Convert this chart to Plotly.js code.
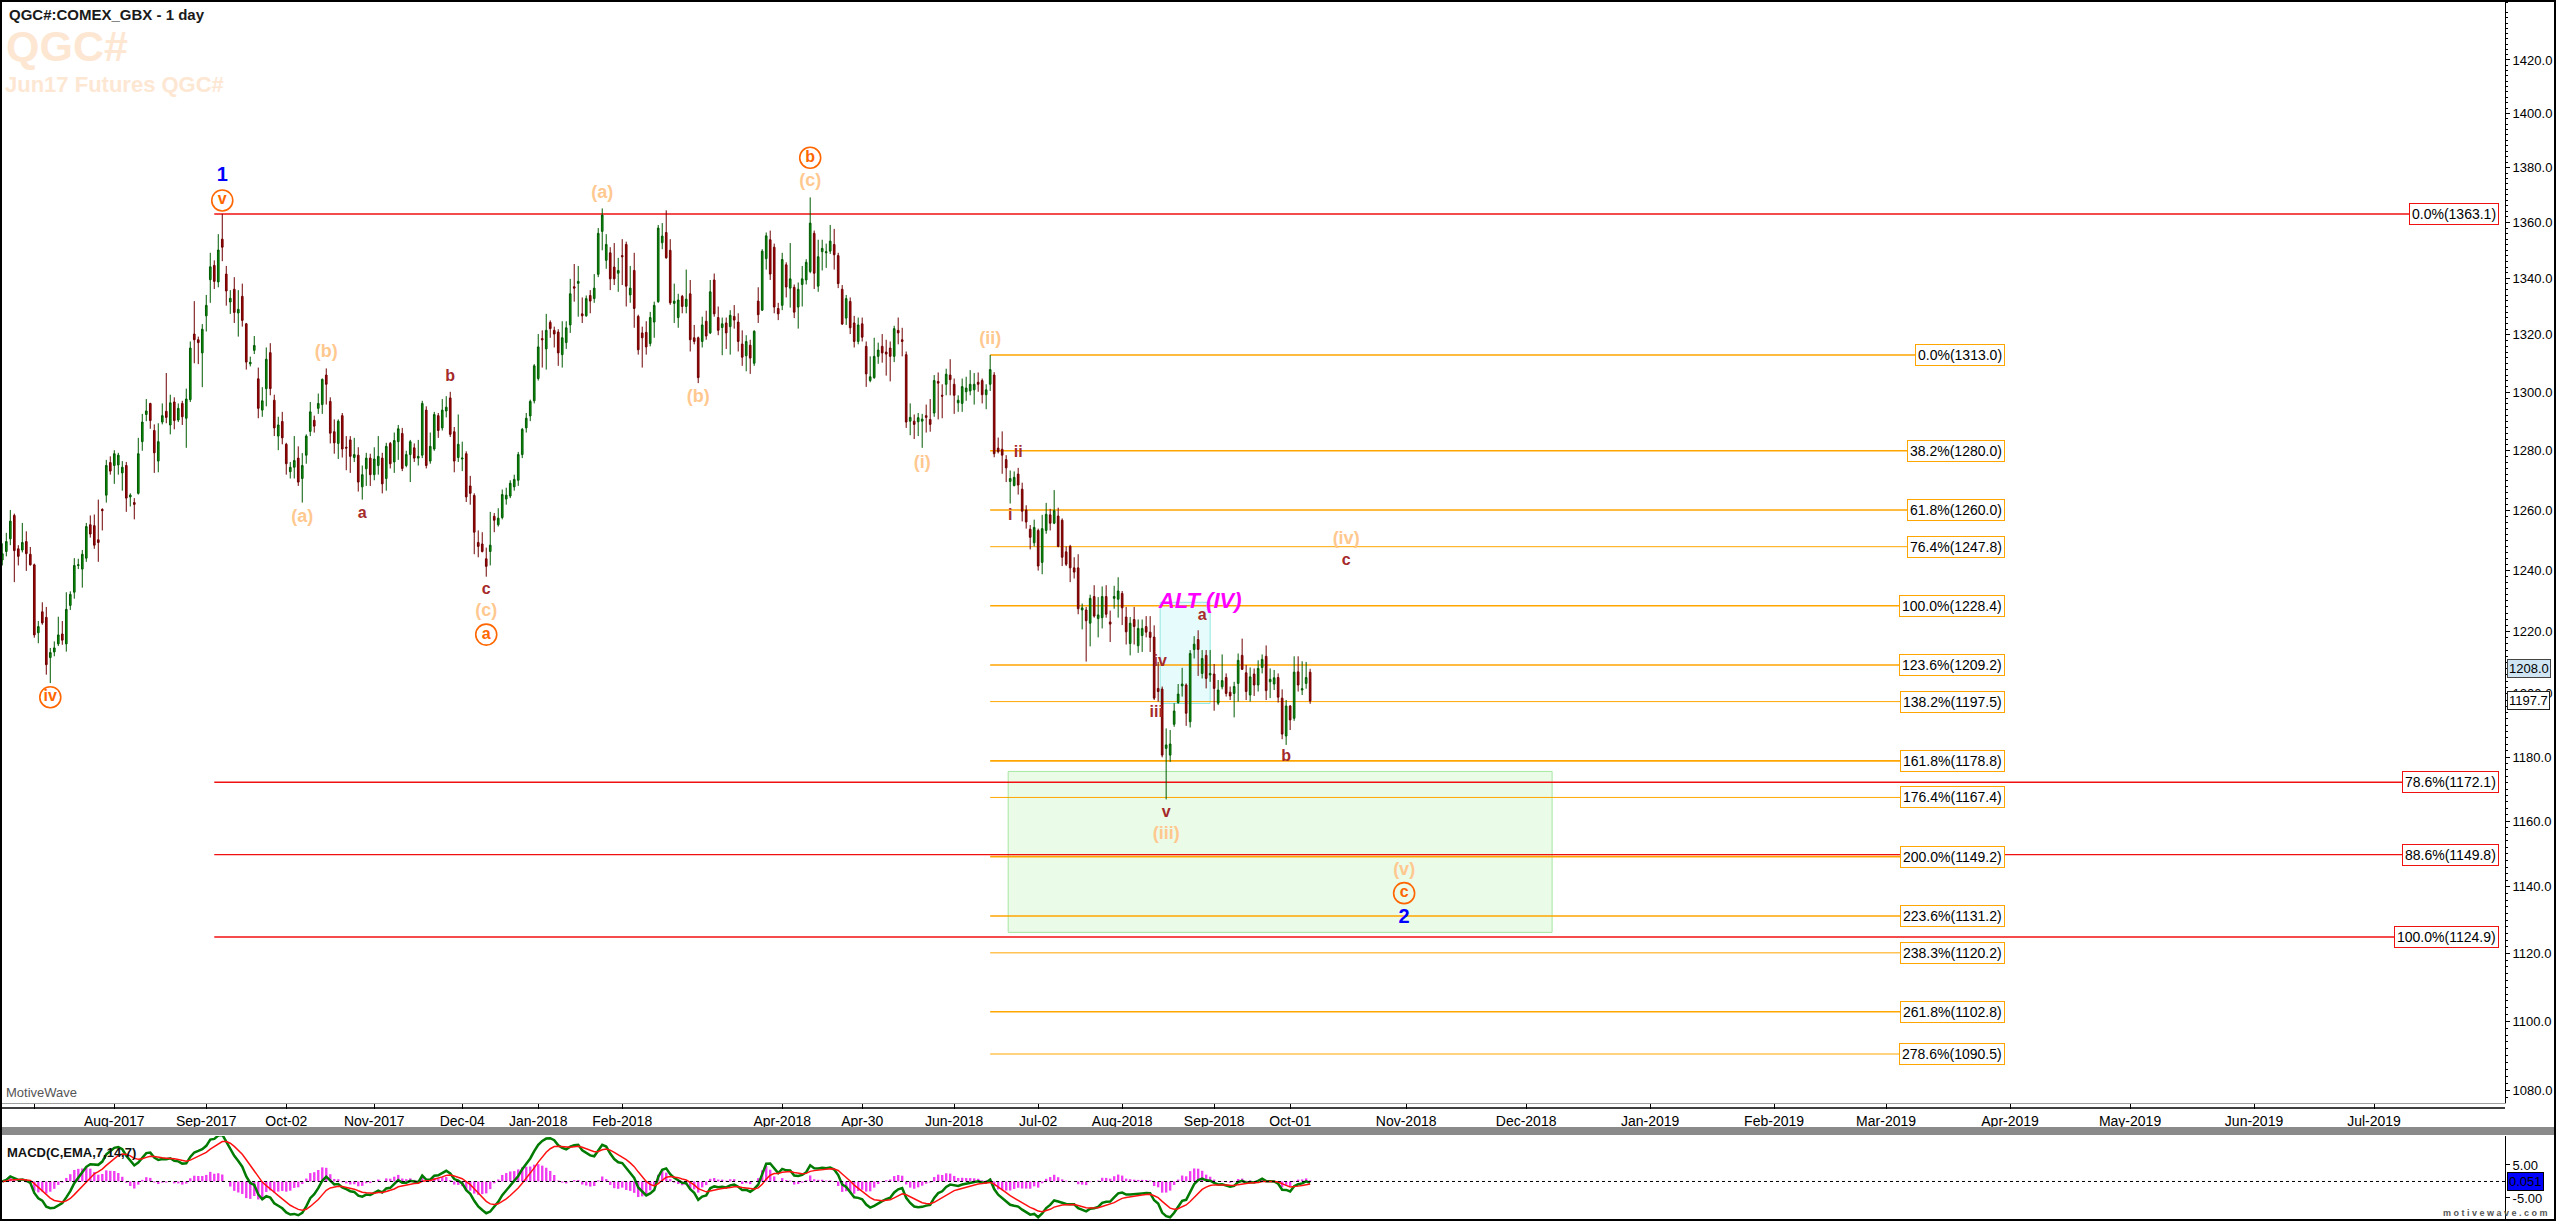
<!DOCTYPE html>
<html><head><meta charset="utf-8">
<script src="https://cdn.plot.ly/plotly-3.0.1.min.js"></script>
<style>html,body{margin:0;padding:0;background:#fff;}#chart{width:2556px;height:1221px;}</style>
</head><body><div id="chart"></div>
<script>
// ---------- DATA ----------
const firstDate = '2017-06-21';
const lastDate = '2018-10-08';
const holidays = ['2017-07-04','2017-09-04','2017-11-23','2017-12-25','2018-01-01','2018-01-15','2018-02-19','2018-03-30','2018-05-28','2018-07-04','2018-09-03'];

const openP = [
1243.4,1246.2,1250.4,1258.2,1247.1,1246.7,1249.5,1245.3,1241.8,1219.6,
1226.4,1224.6,1211.6,1213.4,1216.0,1219.2,1216.0,1228.5,1232.8,1241.6,
1240.4,1244.0,1255.1,1254.8,1250.1,1260.2,1265.0,1276.0,1275.0,1275.2,
1272.5,1275.0,1264.4,1262.5,1265.6,1283.1,1292.4,1296.2,1286.9,1276.5,
1289.8,1293.5,1288.8,1296.7,1290.5,1296.2,1291.1,1297.5,1320.3,1318.3,
1313.7,1326.7,1339.5,1344.6,1338.7,1354.0,1341.5,1331.6,1336.1,1327.7,
1333.6,1323.9,1309.9,1314.6,1304.7,1293.9,1301.3,1313.8,1297.3,1285.0,
1290.0,1282.2,1272.9,1274.4,1277.5,1270.6,1278.5,1286.6,1290.4,1294.5,
1295.8,1306.0,1296.9,1286.5,1282.5,1292.0,1281.2,1283.7,1277.7,1278.5,
1267.8,1273.9,1277.5,1271.9,1275.0,1277.5,1270.6,1282.5,1276.2,1283.1,
1285.9,1275.0,1278.7,1281.0,1277.5,1278.5,1293.9,1276.5,1280.6,1292.0,
1287.8,1293.6,1298.1,1286.5,1277.7,1277.2,1279.0,1268.1,1264.9,1249.2,
1248.7,1243.8,1246.2,1257.9,1255.1,1257.5,1263.7,1264.7,1267.8,1270.0,
1278.7,1287.8,1291.9,1297.1,1304.8,1318.7,1315.1,1324.4,1321.6,1321.0,
1313.1,1317.3,1323.5,1337.0,1338.2,1327.4,1326.7,1333.9,1332.8,1341.4,
1356.8,1346.4,1349.1,1344.0,1341.8,1348.1,1352.1,1334.1,1342.8,1326.5,
1320.7,1320.9,1317.0,1324.5,1331.7,1352.7,1356.4,1350.0,1331.1,1326.1,
1333.6,1330.0,1334.5,1319.0,1319.0,1317.7,1324.8,1320.7,1339.4,1326.1,
1322.6,1324.2,1322.9,1326.5,1324.5,1316.8,1312.7,1316.4,1310.1,1331.9,
1328.7,1347.0,1353.8,1351.1,1329.3,1330.4,1344.8,1336.5,1336.8,1329.8,
1337.8,1339.4,1342.4,1356.1,1337.2,1349.5,1349.1,1349.7,1352.1,1348.1,
1336.1,1325.9,1331.8,1324.2,1317.7,1323.9,1316.0,1304.1,1305.1,1312.5,
1316.0,1314.0,1315.4,1312.5,1321.6,1318.3,1313.1,1290.1,1290.1,1289.9,
1290.1,1292.0,1290.7,1292.9,1303.8,1299.0,1302.8,1306.0,1302.8,1296.4,
1296.2,1300.2,1300.5,1300.9,1303.5,1304.1,1299.2,1302.8,1306.0,1280.9,
1280.5,1277.0,1269.6,1268.2,1272.1,1267.0,1260.0,1253.6,1249.1,1253.2,
1242.6,1253.2,1258.4,1255.6,1258.0,1256.6,1246.1,1247.9,1240.8,1240.8,
1227.0,1227.0,1222.7,1231.4,1224.2,1224.5,1231.4,1223.1,1230.8,1230.5,
1232.4,1224.7,1216.1,1223.9,1215.4,1218.7,1221.6,1219.8,1218.2,1201.7,
1201.5,1182.7,1180.6,1190.3,1197.2,1202.5,1202.8,1191.1,1214.2,1217.4,
1206.5,1212.3,1206.0,1206.3,1197.0,1202.2,1205.2,1200.5,1200.1,1203.3,
1212.3,1206.7,1199.6,1206.3,1202.8,1208.4,1212.0,1203.8,1203.1,1205.2,
1198.6,1186.6,1196.1,1192.2,1207.0,1201.2,1203.3,1206.9];

const highP = [
1248.9,1252.4,1260.0,1258.8,1248.3,1255.7,1252.9,1247.7,1242.2,1223.4,
1229.5,1228.0,1214.7,1216.8,1224.8,1223.4,1232.8,1233.1,1244.0,1243.8,
1246.7,1255.7,1258.2,1258.5,1263.5,1260.6,1276.9,1278.1,1280.2,1279.3,
1276.5,1276.2,1265.6,1264.0,1284.4,1292.6,1297.7,1296.4,1289.0,1289.4,
1296.2,1306.7,1299.2,1298.3,1296.2,1297.1,1301.3,1317.7,1331.9,1319.4,
1323.8,1334.1,1349.1,1346.4,1355.8,1363.1,1344.4,1335.8,1340.4,1335.8,
1338.1,1324.2,1312.4,1319.6,1308.6,1301.8,1315.6,1317.1,1299.2,1291.6,
1293.3,1282.7,1276.2,1285.0,1281.5,1279.2,1285.6,1296.7,1292.0,1299.6,
1304.8,1308.3,1298.3,1290.7,1290.7,1292.9,1285.0,1285.0,1284.4,1281.2,
1275.0,1279.3,1279.0,1281.2,1285.0,1279.3,1282.7,1283.0,1286.2,1288.8,
1287.8,1280.0,1283.7,1282.5,1283.7,1297.1,1295.2,1286.2,1293.3,1292.9,
1297.7,1298.7,1300.2,1288.1,1292.4,1283.1,1279.8,1271.5,1265.6,1253.2,
1252.6,1247.5,1259.4,1259.0,1260.6,1266.9,1267.5,1270.0,1271.9,1279.6,
1287.8,1292.9,1297.5,1309.8,1320.3,1321.6,1327.4,1325.1,1322.9,1322.0,
1324.8,1324.8,1339.8,1345.1,1344.4,1333.2,1333.9,1335.8,1341.5,1358.0,
1365.1,1355.8,1351.1,1352.6,1347.3,1354.0,1353.1,1344.4,1349.1,1327.1,
1322.9,1324.8,1328.1,1331.7,1359.1,1359.8,1364.4,1354.0,1338.1,1334.5,
1334.1,1343.1,1339.4,1323.5,1319.4,1326.4,1328.5,1339.4,1341.7,1330.0,
1326.1,1326.1,1328.7,1330.5,1327.6,1321.6,1319.9,1318.3,1321.6,1336.8,
1350.4,1356.4,1357.1,1352.4,1331.3,1349.1,1345.7,1352.6,1337.8,1338.5,
1344.4,1346.8,1369.1,1357.1,1353.8,1353.8,1352.4,1359.1,1357.7,1349.1,
1337.6,1334.1,1333.2,1326.7,1326.1,1326.1,1317.7,1312.5,1319.0,1317.3,
1320.3,1318.3,1317.7,1323.2,1326.1,1322.5,1314.2,1296.2,1292.4,1292.9,
1292.6,1295.8,1297.7,1306.0,1306.9,1302.8,1308.2,1311.5,1304.8,1299.0,
1304.8,1305.4,1307.7,1306.7,1306.9,1304.8,1302.8,1313.0,1307.0,1284.5,
1286.6,1278.5,1273.3,1273.0,1274.2,1269.2,1261.6,1255.0,1256.8,1253.8,
1258.4,1262.4,1260.4,1266.7,1260.8,1257.2,1247.9,1248.4,1244.3,1245.3,
1229.1,1228.0,1232.0,1235.1,1231.2,1234.7,1235.1,1226.8,1234.9,1237.7,
1233.2,1228.0,1224.7,1228.0,1223.9,1223.9,1225.0,1225.0,1222.0,1210.2,
1202.3,1189.0,1188.5,1197.0,1203.1,1208.3,1203.3,1214.0,1218.5,1220.4,
1214.0,1214.0,1214.0,1209.5,1204.4,1212.6,1206.5,1202.3,1203.8,1212.9,
1217.7,1209.2,1208.4,1208.1,1210.7,1212.6,1215.5,1208.1,1207.6,1206.5,
1201.4,1198.0,1196.4,1212.0,1212.0,1210.4,1210.2,1208.0];

const lowP = [
1241.6,1244.6,1248.3,1236.1,1241.6,1245.9,1239.8,1241.6,1218.0,1216.2,
1222.2,1206.1,1203.4,1212.0,1215.3,1215.7,1213.5,1227.0,1230.7,1240.4,
1234.3,1242.8,1250.8,1247.1,1242.8,1253.2,1262.5,1271.9,1268.8,1271.9,
1266.5,1259.4,1261.2,1256.9,1265.2,1280.0,1290.1,1287.5,1272.5,1272.7,
1289.0,1289.4,1285.6,1287.3,1289.8,1288.8,1281.0,1296.7,1310.1,1309.8,
1301.8,1321.2,1331.3,1336.2,1336.8,1346.1,1330.3,1327.4,1324.2,1319.4,
1322.9,1307.9,1309.0,1313.3,1291.1,1291.6,1295.2,1299.0,1285.0,1280.2,
1282.2,1271.9,1270.6,1270.6,1268.1,1262.5,1275.6,1285.0,1286.2,1292.6,
1292.6,1295.8,1282.5,1279.0,1277.2,1277.7,1273.4,1272.5,1276.2,1266.2,
1263.5,1268.1,1268.1,1270.0,1271.9,1265.6,1266.5,1274.0,1272.5,1276.9,
1273.1,1274.4,1269.4,1276.2,1275.0,1277.5,1274.0,1275.6,1280.0,1284.4,
1286.9,1291.4,1284.7,1272.7,1276.2,1273.1,1262.7,1261.8,1245.3,1244.3,
1245.9,1237.9,1241.6,1252.6,1254.5,1256.9,1261.8,1264.0,1266.5,1268.1,
1277.5,1286.2,1290.1,1296.2,1304.1,1308.6,1307.9,1319.0,1315.6,1309.2,
1308.6,1315.1,1320.7,1331.7,1326.4,1324.2,1326.4,1327.6,1331.3,1340.4,
1350.0,1343.4,1335.8,1337.6,1335.2,1337.6,1330.0,1331.3,1322.5,1313.1,
1308.6,1313.1,1316.0,1319.0,1331.3,1350.4,1347.0,1330.6,1324.2,1322.5,
1327.6,1327.6,1314.2,1316.7,1303.2,1315.6,1318.3,1320.3,1326.4,1319.9,
1312.9,1315.1,1313.1,1322.2,1314.2,1309.2,1307.3,1306.4,1309.2,1324.2,
1328.5,1343.1,1339.4,1327.6,1325.2,1328.7,1333.2,1329.6,1325.9,1322.2,
1330.0,1337.8,1341.8,1336.2,1335.2,1342.8,1343.7,1348.7,1343.1,1336.5,
1323.5,1323.5,1320.3,1315.6,1316.7,1317.7,1301.9,1303.5,1304.7,1309.9,
1310.3,1305.8,1303.8,1310.5,1316.7,1312.5,1287.8,1285.3,1284.0,1285.0,
1281.0,1286.2,1286.5,1291.6,1290.7,1291.1,1299.0,1299.0,1292.6,1293.3,
1293.3,1297.1,1299.0,1295.8,1300.2,1296.2,1294.2,1300.5,1277.8,1279.1,
1272.2,1269.4,1262.2,1268.0,1265.2,1256.2,1253.8,1246.9,1247.9,1239.9,
1238.7,1252.1,1253.2,1255.3,1247.6,1241.4,1241.4,1236.1,1237.3,1225.6,
1220.7,1210.3,1215.2,1224.5,1218.1,1221.0,1224.5,1216.6,1227.4,1224.5,
1222.1,1215.8,1212.3,1215.8,1213.1,1213.4,1218.1,1213.4,1198.0,1197.5,
1179.9,1166.8,1178.5,1189.5,1196.8,1199.1,1189.8,1189.3,1211.3,1205.7,
1204.9,1201.7,1203.8,1194.6,1196.4,1201.4,1199.1,1198.0,1192.5,1197.5,
1207.6,1198.0,1197.5,1199.3,1200.7,1206.5,1198.0,1198.6,1201.2,1197.2,
1185.6,1183.8,1188.5,1191.4,1200.7,1199.6,1201.6,1196.8];

const closeP = [
1245.5,1249.5,1256.3,1246.5,1244.6,1249.2,1245.5,1241.8,1218.9,1221.6,
1222.8,1209.3,1213.2,1214.7,1218.9,1217.2,1227.2,1232.1,1241.6,1241.8,
1245.3,1254.5,1252.0,1248.3,1249.2,1259.8,1275.0,1273.1,1279.0,1278.5,
1274.4,1264.0,1265.0,1261.9,1279.0,1289.8,1293.6,1290.3,1279.3,1283.1,
1292.0,1291.4,1296.4,1290.3,1294.5,1291.6,1297.7,1315.4,1318.3,1317.3,
1322.0,1330.4,1344.1,1338.9,1350.1,1351.1,1335.5,1332.9,1327.9,1329.0,
1325.1,1310.5,1310.4,1316.3,1294.5,1297.1,1311.5,1301.3,1287.8,1288.8,
1284.4,1275.6,1274.4,1276.7,1269.4,1275.0,1285.0,1293.3,1288.4,1296.2,
1304.5,1302.8,1286.0,1282.7,1290.1,1280.6,1280.9,1278.1,1278.7,1269.4,
1271.9,1277.5,1271.9,1277.2,1278.1,1268.8,1281.5,1275.6,1283.5,1287.5,
1274.0,1278.7,1283.1,1277.5,1278.1,1296.2,1275.0,1281.5,1292.4,1286.9,
1293.9,1294.9,1285.6,1276.5,1282.2,1277.5,1264.4,1265.6,1252.6,1247.9,
1246.2,1241.3,1248.3,1256.6,1257.3,1265.2,1265.0,1269.0,1270.3,1278.7,
1287.3,1291.1,1296.9,1309.2,1315.8,1318.3,1321.6,1322.2,1320.3,1313.7,
1319.0,1322.5,1334.5,1336.5,1338.9,1326.7,1332.8,1331.9,1336.5,1356.1,
1362.7,1352.1,1339.8,1339.8,1342.8,1347.7,1337.2,1336.5,1329.3,1314.8,
1319.0,1315.8,1326.1,1330.4,1358.0,1355.1,1347.3,1331.3,1331.9,1332.3,
1330.0,1332.6,1318.3,1317.7,1305.1,1323.5,1319.6,1335.2,1327.4,1321.6,
1323.9,1320.7,1326.9,1325.2,1317.7,1312.2,1317.7,1311.9,1321.3,1327.1,
1349.7,1355.2,1341.5,1329.8,1327.4,1346.7,1336.9,1339.8,1328.0,1336.1,
1339.8,1345.7,1359.8,1341.8,1347.7,1350.7,1349.5,1353.3,1348.4,1338.1,
1323.8,1332.8,1322.5,1317.7,1323.5,1319.2,1306.4,1305.4,1312.5,1314.7,
1313.7,1313.3,1312.5,1322.2,1320.7,1317.7,1289.8,1291.4,1289.0,1291.3,
1290.8,1291.4,1289.0,1304.1,1303.2,1298.7,1306.3,1304.4,1299.0,1297.3,
1302.0,1301.5,1302.8,1302.8,1302.8,1299.2,1300.9,1307.9,1279.0,1279.7,
1278.5,1274.2,1270.6,1271.0,1268.4,1259.6,1256.0,1250.9,1254.2,1241.4,
1253.8,1258.6,1255.6,1259.8,1247.9,1244.3,1242.0,1240.8,1239.4,1227.4,
1227.7,1223.5,1230.8,1225.0,1225.4,1231.4,1225.6,1222.4,1231.4,1233.2,
1227.7,1219.9,1222.7,1221.6,1221.0,1221.0,1219.8,1218.1,1198.6,1200.7,
1180.6,1183.8,1184.1,1194.5,1199.9,1203.1,1193.8,1212.9,1215.9,1214.2,
1211.3,1204.9,1206.5,1201.7,1201.2,1204.2,1200.1,1199.3,1202.3,1210.7,
1207.8,1200.7,1205.4,1202.8,1208.1,1211.0,1201.0,1204.6,1205.1,1198.9,
1187.2,1196.1,1191.7,1206.9,1202.8,1201.6,1205.2,1197.7];

const tickDates = ['2017-07-03','2017-08-01','2017-09-01','2017-10-02','2017-11-01','2017-12-04','2018-01-02','2018-02-01','2018-04-02','2018-04-30','2018-06-01','2018-07-02','2018-08-01','2018-09-04','2018-10-01','2018-11-01','2018-12-01','2019-01-01','2019-02-01','2019-03-01','2019-04-01','2019-05-01','2019-06-01','2019-07-01'];
const tickLabels = ['','Aug-2017','Sep-2017','Oct-02','Nov-2017','Dec-04','Jan-2018','Feb-2018','Apr-2018','Apr-30','Jun-2018','Jul-02','Aug-2018','Sep-2018','Oct-01','Nov-2018','Dec-2018','Jan-2019','Feb-2019','Mar-2019','Apr-2019','May-2019','Jun-2019','Jul-2019'];
const priceTicks = [1080,1100,1120,1140,1160,1180,1200,1220,1240,1260,1280,1300,1320,1340,1360,1380,1400,1420];

const fibPct = ['0.0%','38.2%','61.8%','76.4%','100.0%','123.6%','138.2%','161.8%','176.4%','200.0%','223.6%','238.3%','261.8%','278.6%'];
const fibLevels = [1313.0,1280.0,1260.0,1247.8,1228.4,1209.2,1197.5,1178.8,1167.4,1149.2,1131.2,1120.2,1102.8,1090.5];
const retPct = ['0.0%','78.6%','88.6%','100.0%'];
const retLevels = [1363.1,1172.1,1149.8,1124.9];

// ---------- DATES ----------
function ymd(t){return new Date(t).toISOString().slice(0,10);}
const dates = [], gapDays = [];
for(let t=Date.parse(firstDate+'T00:00:00Z'); t<=Date.parse(lastDate+'T00:00:00Z'); t+=86400000){
  const s=ymd(t), wd=new Date(t).getUTCDay();
  if(wd===0||wd===6||holidays.includes(s)) gapDays.push(s); else dates.push(s);
}
const X = dates.map(d=>d+' 12:00');
const bx = i => dates[i]+' 12:00';

// ---------- MACD (EMA 7,14, signal 7) ----------
function ema(a,n){const k=2/(n+1);const o=[];let e=a[0];for(let i=0;i<a.length;i++){e=(i===0)?a[0]:a[i]*k+e*(1-k);o.push(e);}return o;}
const e7=ema(closeP,7), e14=ema(closeP,14);
const macd=e7.map((v,i)=>v-e14[i]);
const sig=ema(macd,7);
const hist=macd.map((v,i)=>v-sig[i]);

// ---------- helpers ----------
const W=2505, H=1221;
const px = x => x/W;
const py = y => (H-y)/H;
const FONT = 'Liberation Sans, Arial, sans-serif';

const traces = [];
function waveTrace(texts,xs,ys,color,size,extra){
  return Object.assign({type:'scatter',mode:'text',x:xs,y:ys,text:texts,textposition:'middle center',
    textfont:{family:FONT,size:size,color:color,weight:'bold'},hoverinfo:'skip',showlegend:false,cliponaxis:false,xaxis:'x',yaxis:'y'},extra||{});
}
traces.push({type:'candlestick',x:X,open:openP,high:highP,low:lowP,close:closeP,xaxis:'x',yaxis:'y',
  increasing:{line:{color:'#005A00',width:1},fillcolor:'#0A960A'},
  decreasing:{line:{color:'#6E0000',width:1},fillcolor:'#A80000'},
  whiskerwidth:0,hoverinfo:'skip',showlegend:false});

traces.push(waveTrace(['(a)','(b)','(c)','(a)','(b)','(c)','(i)','(ii)','(iii)','(iv)','(v)'],
  [bx(75),bx(81),bx(121),bx(150),bx(174),bx(202),bx(230),bx(247),bx(291),'2018-10-17 12:00','2018-11-01 00:00'],
  [1257.5,1313.8,1226.4,1370.7,1298.1,1374.8,1275.8,1318.3,1155.9,1250.2,1145.0],'#FFC88F',18));
traces.push(waveTrace(['a','b','c','i','ii','iii','iv','v','a','b','c'],
  [bx(90),bx(112),bx(121),bx(252),bx(254),dates[289]+' 00:00',dates[290]+' 00:00',bx(291),bx(300),bx(321),'2018-10-17 12:00'],
  [1258.8,1305.4,1233.4,1258.0,1279.4,1193.8,1210.2,1162.7,1225.1,1179.9,1243.1],'#A52A2A',16));
traces.push(waveTrace(['1','2'],[bx(55),'2018-11-01 00:00'],[1376.9,1130.7],'#0000FF',20));
traces.push(waveTrace(['v','iv','a','b','c'],[bx(55),bx(12),bx(121),bx(202),'2018-11-01 00:00'],
  [1368.0,1198.9,1219.0,1383.6,1138.1],'#FF6600',16,
  {mode:'markers+text',marker:{symbol:'circle-open',size:21,color:'#FF6600',line:{width:1.6}}}));
traces.push({type:'scatter',mode:'text',x:[dates[300]+' 00:00'],y:[1229.3],text:['ALT (IV)'],textposition:'middle center',
  textfont:{family:FONT,size:22,color:'#FF00FF',weight:'bold',style:'italic'},hoverinfo:'skip',showlegend:false,xaxis:'x',yaxis:'y'});

// MACD panel
traces.push({type:'bar',x:X,y:hist,width:0.6*86400000,marker:{color:'#F03CF0',line:{width:0}},xaxis:'x',yaxis:'y2',hoverinfo:'skip',showlegend:false});
traces.push({type:'scatter',mode:'lines',x:X,y:macd,line:{color:'#007A00',width:2.5},xaxis:'x',yaxis:'y2',hoverinfo:'skip',showlegend:false});
traces.push({type:'scatter',mode:'lines',x:X,y:sig,line:{color:'#FF1010',width:1.5},xaxis:'x',yaxis:'y2',hoverinfo:'skip',showlegend:false});

// ---------- shapes ----------
const shapes = [];
shapes.push({type:'rect',xref:'x',yref:'y',x0:dates[252]+' 00:00',x1:'2018-12-08 00:00',y0:1126.3,y1:1175.5,
  fillcolor:'rgba(200,245,195,0.38)',line:{color:'#A6E6A0',width:1},layer:'below'});
shapes.push({type:'rect',xref:'x',yref:'y',x0:dates[290]+' 00:00',x1:bx(302),y0:1196.9,y1:1229.5,
  fillcolor:'rgba(200,246,246,0.45)',line:{color:'#92E8E0',width:1},layer:'below'});
fibLevels.forEach((v,i)=>{
  const thin = ['76.4%','138.2%','176.4%','238.3%','278.6%'].includes(fibPct[i]);
  shapes.push({type:'line',xref:'x',yref:'y',x0:bx(247),x1:'2019-03-30 00:00',y0:v,y1:v,line:{color:'#FFA500',width:thin?1:1.6},layer:'below'});
});
retLevels.forEach(v=>{
  shapes.push({type:'line',xref:'x',yref:'y',x0:bx(53),x1:'2019-08-01 00:00',y0:v,y1:v,line:{color:'#F01010',width:1.4},layer:'below'});
});
shapes.push({type:'line',xref:'paper',yref:'paper',x0:0,x1:1,y0:py(1108),y1:py(1108),line:{color:'#000',width:1.5}});
shapes.push({type:'rect',xref:'paper',yref:'paper',x0:0,x1:2556/W,y0:py(1135),y1:py(1127),fillcolor:'#8A8A8A',line:{width:0}});
shapes.push({type:'line',xref:'paper',yref:'y2',x0:0,x1:1,y0:0,y1:0,line:{color:'#000',width:1,dash:'3px,3px'}});
shapes.push({type:'rect',xref:'paper',yref:'paper',x0:0.0004,x1:2555/W,y0:0.0008,y1:0.9992,line:{color:'#000',width:2},fillcolor:'rgba(0,0,0,0)'});

// ---------- annotations ----------
const ann = [];
ann.push({xref:'paper',yref:'paper',x:px(7),y:py(4),xanchor:'left',yanchor:'top',showarrow:false,text:'<b>QGC#:COMEX_GBX - 1 day</b>',font:{family:FONT,size:15,color:'#1a1a1a'}});
ann.push({xref:'paper',yref:'paper',x:px(4),y:py(20),xanchor:'left',yanchor:'top',showarrow:false,text:'<b>QGC#</b>',font:{family:FONT,size:43,color:'#FDE7D3'}});
ann.push({xref:'paper',yref:'paper',x:px(3),y:py(70),xanchor:'left',yanchor:'top',showarrow:false,text:'<b>Jun17 Futures QGC#</b>',font:{family:FONT,size:22,color:'#FDE7D3'}});
ann.push({xref:'paper',yref:'paper',x:px(4),y:py(1092),xanchor:'left',yanchor:'middle',showarrow:false,text:'MotiveWave',font:{family:FONT,size:13,color:'#555'}});
ann.push({xref:'paper',yref:'paper',x:px(5),y:py(1152),xanchor:'left',yanchor:'middle',showarrow:false,text:'<b>MACD(C,EMA,7,14,7)</b>',font:{family:FONT,size:13,color:'#111'}});
ann.push({xref:'paper',yref:'paper',x:2550/W,y:py(1213),xanchor:'right',yanchor:'middle',showarrow:false,text:'<b>m o t i v e w a v e . c o m</b>',font:{family:FONT,size:9,color:'#555'}});
fibLevels.forEach((v,i)=>{
  ann.push({xref:'paper',yref:'y',x:px(2005),y:Math.log10(v),xanchor:'right',yanchor:'middle',showarrow:false,
    text:fibPct[i]+'('+v.toFixed(1)+')',font:{family:FONT,size:14,color:'#000'},bgcolor:'#fff',bordercolor:'#FFA500',borderwidth:1,borderpad:2});
});
retLevels.forEach((v,i)=>{
  ann.push({xref:'paper',yref:'y',x:px(2499),y:Math.log10(v),xanchor:'right',yanchor:'middle',showarrow:false,
    text:retPct[i]+'('+v.toFixed(1)+')',font:{family:FONT,size:14,color:'#000'},bgcolor:'#fff',bordercolor:'#F01010',borderwidth:1,borderpad:2});
});
ann.push({xref:'paper',yref:'y',x:px(2507),y:Math.log10(1208.0),xanchor:'left',yanchor:'middle',showarrow:false,text:'1208.0',
  font:{family:FONT,size:13,color:'#000'},bgcolor:'#CFE5F3',bordercolor:'#444',borderwidth:1,borderpad:1});
ann.push({xref:'paper',yref:'y',x:px(2507),y:Math.log10(closeP[closeP.length-1]),xanchor:'left',yanchor:'middle',showarrow:false,text:closeP[closeP.length-1].toFixed(1),
  font:{family:FONT,size:13,color:'#000'},bgcolor:'#fff',bordercolor:'#222',borderwidth:1,borderpad:1});
ann.push({xref:'paper',yref:'y2',x:px(2507),y:0,xanchor:'left',yanchor:'middle',showarrow:false,text:'0.051',
  font:{family:FONT,size:13,color:'#000'},bgcolor:'#0000FF',bordercolor:'#000',borderwidth:1,borderpad:1});

const minorTicks=[]; for(let v=1078; v<=1442; v+=2){ if(v%20!==0) minorTicks.push(v); }

const layout = {
  width:2556, height:1221, margin:{l:0,r:51,t:0,b:0,pad:0},
  paper_bgcolor:'#fff', plot_bgcolor:'#fff', showlegend:false,
  font:{family:FONT,size:13,color:'#000'},
  boxgap:0.42,
  xaxis:{type:'date',anchor:'y',range:['2017-06-20 22:12','2019-08-03 06:00'],
    rangebreaks:[{values:gapDays,dvalue:86400000}], rangeslider:{visible:false},
    tickmode:'array',tickvals:tickDates.map(d=>d+' 12:00'),ticktext:tickLabels,
    ticks:'outside',ticklen:5,tickcolor:'#000',tickwidth:1,showline:true,linecolor:'#A0A0A0',linewidth:1,
    showgrid:false,zeroline:false,tickfont:{family:FONT,size:14,color:'#000'},fixedrange:true},
  yaxis:{type:'log',domain:[py(1103),1],range:[Math.log10(1076.4),Math.log10(1442.8)],side:'right',anchor:'x',
    tickmode:'array',tickvals:priceTicks,ticktext:priceTicks.map(v=>v.toFixed(1)),
    ticks:'outside',ticklen:4,tickcolor:'#000',
    minor:{tickvals:minorTicks,ticks:'outside',ticklen:2,tickcolor:'#000'},
    showline:true,linecolor:'#000',linewidth:1,showgrid:false,zeroline:false,
    tickfont:{family:FONT,size:13,color:'#000'},fixedrange:true},
  yaxis2:{domain:[0,py(1136)],range:[-12.0,13.8],side:'right',anchor:'x',
    tickmode:'array',tickvals:[5,-5],ticktext:['5.00','-5.00'],ticks:'outside',ticklen:4,tickcolor:'#000',
    showline:true,linecolor:'#000',showgrid:false,zeroline:false,tickfont:{family:FONT,size:13,color:'#000'},fixedrange:true},
  shapes:shapes, annotations:ann
};
Plotly.newPlot('chart',traces,layout,{staticPlot:true,displayModeBar:false});
</script></body></html>
